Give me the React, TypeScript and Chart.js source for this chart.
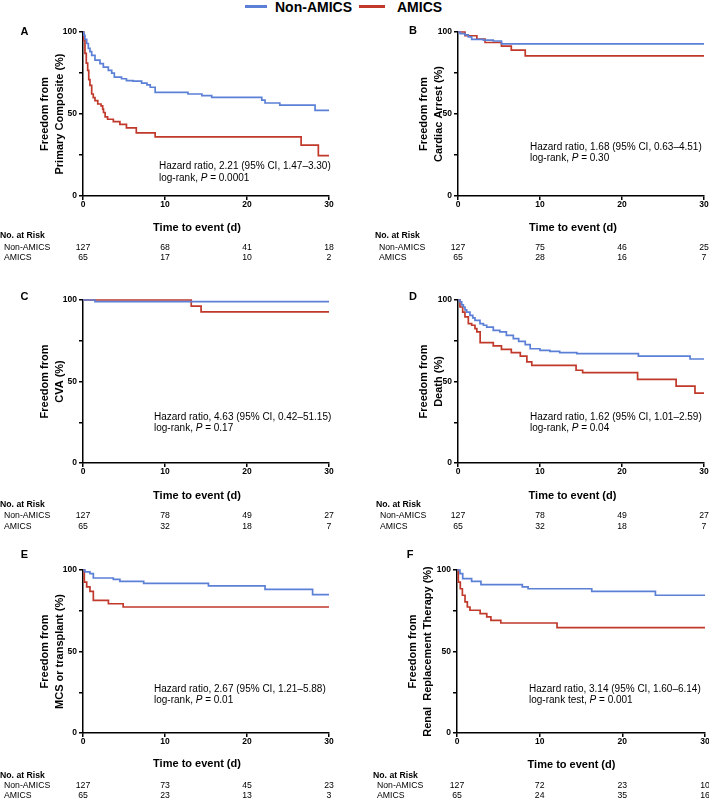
import React, { useEffect, useRef } from "react";
import { Chart, registerables } from "chart.js";

Chart.register(...registerables);

const FONT = "'Liberation Sans', Arial, Helvetica, sans-serif";
const BLUE = "#5b80d6";
const RED = "#c0392b";

const groups = ["Non-AMICS", "AMICS"];
const timeTicks = [0, 10, 20, 30];
const xTitle = "Time to event (d)";

// ---- Survival curves: [day, freedom %] (value after each step) ----
const aNon = [[0,100],[0.1,98],[0.24,95.5],[0.45,93],[0.65,90],[0.85,88],[1.06,85.8],[1.46,82.8],[2.07,80.7],[2.48,78.6],[3.09,76.6],[3.5,74.9],[3.82,72.5],[4.7,71.5],[5.3,70.4],[6.1,70],[7.15,68.8],[7.8,67.8],[8.2,66.3],[8.8,63.2],[12.8,62.2],[14.5,61.2],[15.7,60.1],[21.8,58.5],[22.2,56.7],[24.0,55.4],[28.3,52.2],[30,52.2]];
const aAmics = [[0,100],[0.1,95],[0.24,87],[0.4,81],[0.57,76.6],[0.7,71],[0.85,67.4],[1.06,62.2],[1.25,60],[1.46,58.1],[1.8,56.1],[2.2,55],[2.4,53],[2.5,50.9],[2.7,48.3],[3.0,46.8],[3.7,45.4],[4.5,43.7],[5.3,41.5],[6.5,38.5],[8.8,36],[26.6,31],[28.7,24.6],[30,24.6]];

const bNon = [[0,100],[0.25,99],[0.85,98.2],[1.26,97],[1.67,95.5],[3.1,95],[4.3,94.5],[5.3,92.7],[30,92.7]];
const bAmics = [[0,100],[0.85,97.7],[2.3,95.7],[3.3,93.6],[5.3,91.4],[6.5,88.9],[8.2,85.5],[30,85.5]];

const cNon = [[0,100],[1.46,99],[30,99]];
const cAmics = [[0,100],[13.2,96.3],[14.4,92.7],[30,92.7]];

const dNon = [[0,100],[0.24,98.8],[0.45,97],[0.65,95.7],[0.85,94],[1.06,92.6],[1.46,90.6],[1.8,89],[2.07,87.5],[2.68,85.5],[3.1,84.5],[3.5,83.4],[4.3,81.4],[5.1,80.4],[5.9,78.3],[6.75,76.3],[7.4,74.6],[8.2,72.6],[8.8,70.1],[10,69.1],[11.2,68.5],[12.4,67.7],[14.5,67.1],[22,65.6],[28.3,63.8],[30,63.8]];
const dAmics = [[0,100],[0.24,95.7],[0.57,92.6],[0.85,89.6],[1.26,85.5],[1.67,84.5],[2.07,82.4],[2.3,80.4],[2.7,73.8],[4.3,71.8],[5.3,69.7],[6.5,67.7],[7.6,65.6],[8.4,62],[9.0,59.9],[14.4,56.9],[15.2,55.4],[21.9,51.3],[26.6,47.2],[28.9,42.9],[30,42.9]];

const eNon = [[0,100],[0.24,98.8],[0.85,97.8],[1.26,95.1],[3.7,94.3],[4.5,93],[7.4,91.8],[15.3,90.2],[22.2,88.1],[28,84.9],[30,84.9]];
const eAmics = [[0,100],[0.16,92.6],[0.45,89.6],[0.85,86.9],[1.26,81.4],[3.1,79.3],[4.9,77.3],[30,77.3]];

const fNon = [[0,100],[0.36,97.8],[0.69,94.7],[1.77,93],[2.9,91],[7.9,89.6],[8.6,88.5],[16.3,86.9],[24,84.5],[30,84.5]];
const fAmics = [[0,100],[0.16,92.6],[0.4,88.5],[0.65,84.5],[0.97,80.4],[1.25,77.3],[1.57,75.3],[2.8,73.2],[3.6,71.2],[4.1,69.1],[5.3,67.5],[12.1,64.6],[30,64.6]];

// ---- Numbers at risk at days 0, 10, 20, 30 ----
const riskNonA = [127, 68, 41, 18];
const riskAmicsA = [65, 17, 10, 2];
const riskNonB = [127, 75, 46, 25];
const riskAmicsB = [65, 28, 16, 7];
const riskNonC = [127, 78, 49, 27];
const riskAmicsC = [65, 32, 18, 7];
const riskNonD = [127, 78, 49, 27];
const riskAmicsD = [65, 32, 18, 7];
const riskNonE = [127, 73, 45, 23];
const riskAmicsE = [65, 23, 13, 3];
const riskNonF = [127, 72, 23, 10];
const riskAmicsF = [65, 24, 35, 16];

// ---- Texts ----
const yTitles = [
  ["Freedom from", "Primary Composite (%)"],
  ["Freedom from", "Cardiac Arrest (%)"],
  ["Freedom from", "CVA (%)"],
  ["Freedom from", "Death (%)"],
  ["Freedom from", "MCS or transplant (%)"],
  ["Freedom from", "Renal  Replacement Therapy (%)"],
];
const hazardTexts = [
  "Hazard ratio, 2.21 (95% CI, 1.47\u20133.30)",
  "Hazard ratio, 1.68 (95% CI, 0.63\u20134.51)",
  "Hazard ratio, 4.63 (95% CI, 0.42\u201351.15)",
  "Hazard ratio, 1.62 (95% CI, 1.01\u20132.59)",
  "Hazard ratio, 2.67 (95% CI, 1.21\u20135.88)",
  "Hazard ratio, 3.14 (95% CI, 1.60\u20136.14)",
];
const testLabels = ["log-rank, ", "log-rank, ", "log-rank, ", "log-rank, ", "log-rank, ", "log-rank test, "];
const pValues = [" = 0.0001", " = 0.30", " = 0.17", " = 0.04", " = 0.01", " = 0.001"];
const letters = ["A", "B", "C", "D", "E", "F"];

type Layout = {
  left: number; top: number; w: number; h: number;
  plotL: number; plotR: number; plotT: number; plotB: number;
  xTitleX: number; xTitleY: number; yTitleX: number;
  letterX: number; letterY: number;
  hzX: number; hzY1: number; hzY2: number;
  riskX: number; riskY: number; row1Y: number; row2Y: number;
};

const layouts: Layout[] = [
  { left: 0, top: 18, w: 354, h: 248, plotL: 83, plotR: 329, plotT: 32, plotB: 196, xTitleX: 197, xTitleY: 228, yTitleX: 45, letterX: 24.5, letterY: 31.5, hzX: 159, hzY1: 166.5, hzY2: 178, riskX: 0, riskY: 236, row1Y: 248, row2Y: 258 },
  { left: 354, top: 18, w: 360, h: 248, plotL: 458, plotR: 704, plotT: 32, plotB: 196, xTitleX: 573, xTitleY: 228, yTitleX: 424, letterX: 413, letterY: 31, hzX: 530, hzY1: 147.3, hzY2: 158.5, riskX: 375, riskY: 236, row1Y: 248, row2Y: 258 },
  { left: 0, top: 268, w: 354, h: 267, plotL: 83, plotR: 329, plotT: 300, plotB: 463, xTitleX: 197, xTitleY: 496, yTitleX: 45, letterX: 24.5, letterY: 297, hzX: 154, hzY1: 417.3, hzY2: 428.5, riskX: 0, riskY: 505, row1Y: 516, row2Y: 527 },
  { left: 354, top: 268, w: 360, h: 267, plotL: 458, plotR: 704, plotT: 300, plotB: 463, xTitleX: 572.5, xTitleY: 496, yTitleX: 424, letterX: 413, letterY: 297, hzX: 530, hzY1: 417.3, hzY2: 428.5, riskX: 376, riskY: 505, row1Y: 516, row2Y: 527 },
  { left: 0, top: 540, w: 354, h: 260, plotL: 83, plotR: 329, plotT: 570, plotB: 733, xTitleX: 197, xTitleY: 764, yTitleX: 45, letterX: 24.5, letterY: 554.5, hzX: 154, hzY1: 689.3, hzY2: 700.7, riskX: 0, riskY: 776, row1Y: 786, row2Y: 796 },
  { left: 354, top: 540, w: 360, h: 260, plotL: 457, plotR: 705, plotT: 570, plotB: 733, xTitleX: 571.5, xTitleY: 765, yTitleX: 413, letterX: 410, letterY: 555, hzX: 529, hzY1: 689.3, hzY2: 700.5, riskX: 373, riskY: 775.5, row1Y: 786, row2Y: 796 },
];

const nonSeries = [aNon, bNon, cNon, dNon, eNon, fNon];
const amicsSeries = [aAmics, bAmics, cAmics, dAmics, eAmics, fAmics];
const riskNon = [riskNonA, riskNonB, riskNonC, riskNonD, riskNonE, riskNonF];
const riskAmics = [riskAmicsA, riskAmicsB, riskAmicsC, riskAmicsD, riskAmicsE, riskAmicsF];

const TICK_FONT = { family: FONT, size: 8.5, weight: "bold" as const, lineHeight: 1.2 };
const Y_TITLE_LH = 1.32;
const X_TITLE_H = 11 * 1.2;

function Panel({ idx }: { idx: number }) {
  const ref = useRef<HTMLCanvasElement>(null);
  const L = layouts[idx];
  useEffect(() => {
    const canvas = ref.current;
    if (!canvas) return;
    const extraText = {
      id: "extraText" + idx,
      afterDraw(chart: any) {
        const ctx = chart.ctx as CanvasRenderingContext2D;
        const ox = L.left;
        const oy = L.top;
        ctx.save();
        ctx.fillStyle = "#000";
        ctx.textBaseline = "middle";
        // panel letter
        ctx.font = `bold 11px ${FONT}`;
        ctx.textAlign = "center";
        ctx.fillText(letters[idx], L.letterX - ox, L.letterY - oy);
        // x axis title
        ctx.font = `bold 11px ${FONT}`;
        ctx.fillText(xTitle, L.xTitleX - ox, L.xTitleY - oy);
        // hazard ratio text
        ctx.textAlign = "left";
        ctx.font = `10px ${FONT}`;
        ctx.fillText(hazardTexts[idx], L.hzX - ox, L.hzY1 - oy);
        let x = L.hzX - ox;
        const y2 = L.hzY2 - oy;
        ctx.fillText(testLabels[idx], x, y2);
        x += ctx.measureText(testLabels[idx]).width;
        ctx.font = `italic 10px ${FONT}`;
        ctx.fillText("P", x, y2);
        x += ctx.measureText("P").width;
        ctx.font = `10px ${FONT}`;
        ctx.fillText(pValues[idx], x, y2);
        // risk table
        ctx.font = `bold 8.7px ${FONT}`;
        ctx.fillText("No. at Risk", L.riskX - ox, L.riskY - oy);
        ctx.font = `8.7px ${FONT}`;
        const xs = chart.scales.x;
        const rows: [string, number[], number][] = [
          [groups[0], riskNon[idx], L.row1Y],
          [groups[1], riskAmics[idx], L.row2Y],
        ];
        rows.forEach(([label, vals, y]) => {
          ctx.textAlign = "left";
          ctx.fillText(label, L.riskX + 4 - ox, y - oy);
          ctx.textAlign = "center";
          vals.forEach((v, i) => {
            ctx.fillText(String(v), xs.getPixelForValue(timeTicks[i]), y - oy);
          });
        });
        ctx.restore();
      },
    };

    const mk = (pts: number[][], color: string) => ({
      data: pts.map(([x, y]) => ({ x, y })),
      borderColor: color,
      backgroundColor: color,
      borderWidth: 1.7,
      stepped: true,
      pointRadius: 0,
      fill: false,
      clip: 4,
    });

    const xScaleH = L.xTitleY + X_TITLE_H / 2 - L.plotB;
    const chart = new Chart(canvas, {
      type: "line",
      data: {
        datasets: [mk(nonSeries[idx], BLUE), mk(amicsSeries[idx], RED)] as any,
      },
      options: {
        responsive: false,
        maintainAspectRatio: false,
        animation: false,
        layout: {
          padding: {
            left: 0,
            top: L.plotT - L.top,
            right: L.left + L.w - L.plotR,
            bottom: L.top + L.h - (L.plotB + xScaleH),
          },
        },
        plugins: {
          legend: { display: false },
          tooltip: { enabled: false },
          title: { display: false },
        },
        scales: {
          x: {
            type: "linear",
            min: 0,
            max: 30,
            ticks: { stepSize: 10, color: "#000", font: TICK_FONT, padding: 0, maxRotation: 0, autoSkip: false },
            grid: { display: true, drawOnChartArea: false, drawTicks: true, tickLength: 4, color: "#000", lineWidth: 1.5 },
            border: { display: true, color: "#000", width: 1.5 },
            title: { display: false },
            afterFit: (s: any) => { s.height = xScaleH; },
          } as any,
          y: {
            type: "linear",
            min: 0,
            max: 100,
            ticks: {
              stepSize: 25,
              color: "#000",
              font: TICK_FONT,
              padding: 2,
              callback: (v: any) => (Number(v) % 50 === 0 ? String(v) : ""),
            },
            grid: { display: true, drawOnChartArea: false, drawTicks: true, tickLength: 4, color: "#000", lineWidth: 1.5 },
            border: { display: true, color: "#000", width: 1.5 },
            title: {
              display: true,
              text: yTitles[idx],
              color: "#000",
              font: { family: FONT, size: 11, weight: "bold", lineHeight: Y_TITLE_LH },
              padding: { top: L.yTitleX - L.left - (11 * Y_TITLE_LH) / 2, bottom: 0 },
            },
            afterFit: (s: any) => { s.width = L.plotL - L.left; },
          } as any,
        },
      },
      plugins: [extraText],
    });
    return () => chart.destroy();
  }, [idx]);
  return (
    <canvas
      ref={ref}
      width={L.w}
      height={L.h}
      style={{ position: "absolute", left: L.left, top: L.top, width: L.w, height: L.h }}
    />
  );
}

export default function App() {
  const legendText: React.CSSProperties = {
    position: "absolute",
    top: 0,
    font: `bold 14px ${FONT}`,
    lineHeight: "14px",
    color: "#000",
    whiteSpace: "nowrap",
  };
  return (
    <div style={{ position: "absolute", left: 0, top: 0, width: 709, height: 800, overflow: "hidden", background: "#fff" }}>
      <div style={{ position: "absolute", left: 245, top: 5, width: 22, height: 3, background: BLUE }} />
      <div style={{ ...legendText, left: 275 }}>{groups[0]}</div>
      <div style={{ position: "absolute", left: 359, top: 5, width: 26, height: 3, background: RED }} />
      <div style={{ ...legendText, left: 397 }}>{groups[1]}</div>
      {layouts.map((_, i) => (
        <Panel key={i} idx={i} />
      ))}
    </div>
  );
}
